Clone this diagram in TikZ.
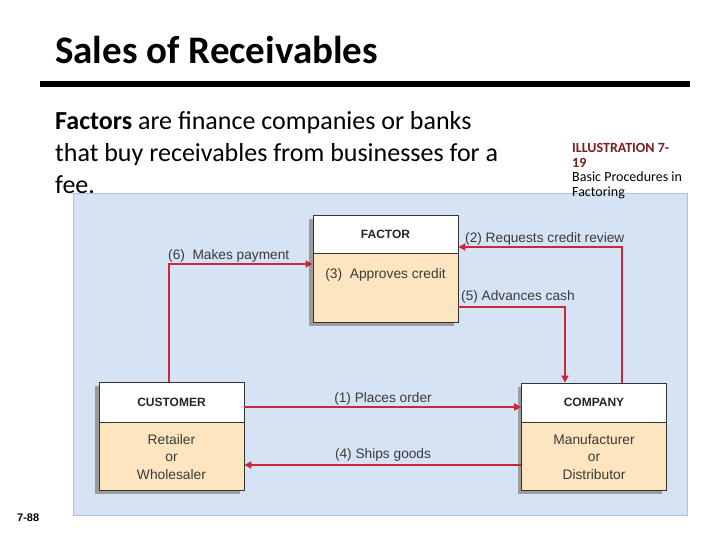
\documentclass[tikz,border=0pt]{standalone}
\usepackage{fontspec}
\setmainfont{Carlito}
\newfontfamily\diagfont{Liberation Sans}
\usetikzlibrary{arrows.meta}
\definecolor{panelblue}{HTML}{D5E3F4}
\definecolor{panelborder}{HTML}{A7C3E2}
\definecolor{beige}{HTML}{FDE5BF}
\definecolor{arrowred}{HTML}{C8283A}
\definecolor{labelgray}{HTML}{3A3A3A}
\definecolor{illred}{HTML}{7A1E1E}
\definecolor{shadowgray}{HTML}{9C9C9C}
\tikzset{
  hdr/.style={draw=black!80, line width=0.8pt, fill=white, minimum width=145pt, inner sep=0pt, font=\diagfont\bfseries\fontsize{12}{12}\selectfont, text=black!85},
  bod/.style={draw=black!80, line width=0.8pt, fill=beige, minimum width=145pt, inner sep=0pt, align=center, font=\diagfont\fontsize{13.8}{17.5}\selectfont, text=labelgray},
  lbl/.style={font=\diagfont\fontsize{13.7}{14}\selectfont, text=labelgray, inner sep=0pt},
  arr/.style={draw=arrowred, line width=2.6pt, -{Triangle[length=7pt,width=7pt]}},
  shadow/.style={fill=shadowgray, draw=none}
}
\begin{document}
\begin{tikzpicture}[x=1pt,y=-1pt]
\useasboundingbox (0,0) rectangle (720,540);
\fill[white] (0,0) rectangle (720,540);
% title
\node[anchor=base west, inner sep=0pt, font=\bfseries\fontsize{39}{42}\selectfont] (title) at (55,64) {Sales of Receivables};
\draw[line width=5.5pt] (40,84) -- (690,84);
% intro text
\node[anchor=north west, inner sep=0pt, align=left, font=\fontsize{26}{32}\selectfont] (intro) at (55,111)
  {\textbf{Factors} are finance companies or banks\\that buy receivables from businesses for a\\fee.};
% panel
\draw[fill=panelblue, draw=panelborder, line width=0.8pt] (73,193) rectangle (687,515);
% illustration caption
\node[anchor=north west, inner sep=0pt, align=left, font=\fontsize{14}{14.4}\selectfont] (ill) at (572,143.5)
  {\textcolor{illred}{\textbf{ILLUSTRATION 7-}}\\\textcolor{illred}{\textbf{19}}\\Basic Procedures in\\Factoring};
% shadows
\fill[shadow] (309,219) rectangle (454,326);
\fill[shadow] (95,386) rectangle (240,494);
\fill[shadow] (518,387) rectangle (662,494);
% FACTOR box
\node[hdr, minimum height=38pt] (factorH) at (385.5,234) {FACTOR};
\node[bod, minimum height=69pt, anchor=north] (factorB) at (factorH.south) {(3)\ \ Approves credit\\[12pt]};
% CUSTOMER box
\node[hdr, minimum height=40pt] (custH) at (171.5,402) {CUSTOMER};
\node[bod, minimum height=68pt, anchor=north] (custB) at (custH.south) {Retailer\\or\\Wholesaler};
% COMPANY box
\node[hdr, minimum height=39pt] (compH) at (594,402.5) {COMPANY};
\node[bod, minimum height=68pt, anchor=north] (compB) at (compH.south) {Manufacturer\\or\\Distributor};
% connectors
\coordinate (c2) at (622,247);
\coordinate (c5) at (565,307);
\coordinate (c6) at (169,264);
\draw[arr] (custH.east |- 0,407) -- (compH.west |- 0,407);
\draw[arr] (compB.west |- 0,465) -- (custB.east |- 0,465);
\draw[arr] (compH.north -| c2) |- (factorH.east |- c2);
\draw[arr] (factorB.east |- c5) -| (compH.north -| c5);
\draw[arr] (custH.north -| c6) |- (factorB.west |- c6);
% labels
\node[lbl, anchor=base] (l1) at (383,402) {(1) Places order};
\node[lbl, anchor=base] (l4) at (383,458) {(4) Ships goods};
\node[lbl, anchor=base west] (l2) at (465,242) {(2) Requests credit review};
\node[lbl, anchor=base west] (l5) at (461,300) {(5) Advances cash};
\node[lbl, anchor=base west] (l6) at (168,259) {(6)\ \ Makes payment};
% page number
\node[anchor=base west, inner sep=0pt, font=\diagfont\bfseries\fontsize{11}{12}\selectfont] (pg) at (17,521) {7-88};
\end{tikzpicture}
\end{document}
